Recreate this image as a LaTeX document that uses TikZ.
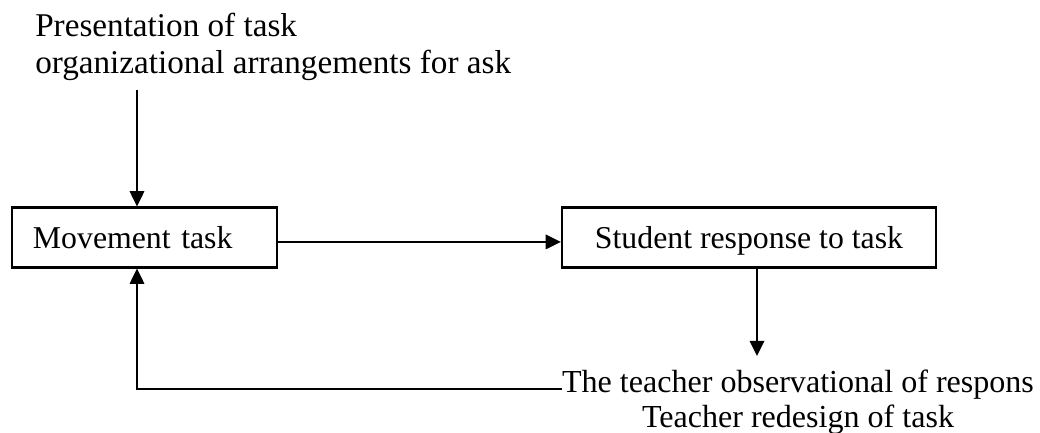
\documentclass[tikz,border=0pt]{standalone}
\usepackage{fontspec}
\setmainfont{Liberation Serif}
\usetikzlibrary{arrows.meta}
\tikzset{box/.style={draw,line width=1.5pt,minimum height=1.5cm,inner sep=0pt,
   text height=0.7cm,text depth=0.175cm,font=\fontsize{22.6}{26}\selectfont},
 note/.style={inner sep=0pt},
 link/.style={line width=1.5pt,-{Triangle[length=0.38cm,width=0.36cm]}},
 }

\begin{document}
\begin{tikzpicture}[x=0.025cm,y=-0.025cm]
        \useasboundingbox (0,0) rectangle (1040,433);
        \node[note,anchor=north west,align=left,font=\fontsize{23.6}{26.3}\selectfont] (pres) at (35,12.5) {Presentation of task\\organizational arrangements for ask};
        \node[box,text width=5.575cm,inner xsep=0.525cm,align=left] (move) at (144.5,237.5) {Movement task};
        \node[box,minimum width=9.35cm] (resp) at (749,237.5) {Student response to task};
        \node[note,anchor=north,align=center,font=\fontsize{22.8}{24.6}\selectfont] (obs) at (798,370) {The teacher observational of respons\\Teacher redesign of task};
        \coordinate (in) at (137,90);
        \coordinate (out) at (757,356);
        \coordinate (back) at ([yshift=-0.475cm]obs.north west);
        \draw[link] (in) -- (in |- move.north);
        \draw[link] ([yshift=-0.11cm]move.east) -- ([yshift=-0.11cm]move.east -| resp.west);
        \draw[link] (out |- resp.south) -- (out);
        \draw[link] (back) -| (in |- move.south);
    \end{tikzpicture}
\end{document}
